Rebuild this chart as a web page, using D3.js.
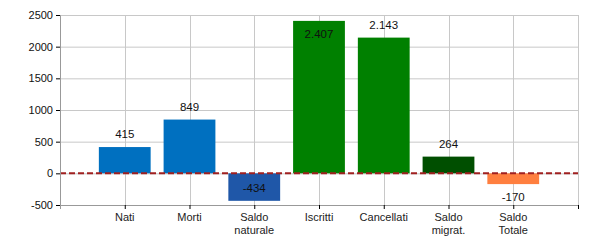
<!DOCTYPE html>
<html>
<head>
<meta charset="utf-8">
<script src="https://cdn.jsdelivr.net/npm/d3@7"></script>
<style>
  body { margin: 0; background: #fff; }
  text { font-family: "Liberation Sans", Arial, sans-serif; }
</style>
</head>
<body>
<svg id="chart" width="600" height="250"></svg>
<script>
// data
var categories = [["Nati"], ["Morti"], ["Saldo", "naturale"], ["Iscritti"], ["Cancellati"], ["Saldo", "migrat."], ["Saldo", "Totale"]];
var values = [415, 849, -434, 2407, 2143, 264, -170];
var barColors = ["#0070c0", "#0070c0", "#1f57a8", "#008000", "#008000", "#004f00", "#ff7f3f"];
var yTicks = [-500, 0, 500, 1000, 1500, 2000, 2500];

var margin = {top: 15, left: 60, right: 22, bottom: 45};
var width = 600 - margin.left - margin.right,
    height = 250 - margin.top - margin.bottom;

var svg = d3.select("#chart");
var g = svg.append("g").attr("transform", "translate(" + margin.left + "," + margin.top + ")");

var y = d3.scaleLinear().domain([-500, 2500]).range([height, 0]);
// one empty slot on the left, categories at 1..7, edge at 8
var x = d3.scaleLinear().domain([0, categories.length + 1]).range([0, width]);
var slot = x(1) - x(0);
var barW = slot * 0.8;

// horizontal grid
g.selectAll(".hgrid").data(yTicks).enter().append("line")
    .attr("x1", 0).attr("x2", width)
    .attr("y1", function(d) { return y(d) + 0.5; })
    .attr("y2", function(d) { return y(d) + 0.5; })
    .style("stroke", "#c8c8c8");

// vertical grid
var vIdx = d3.range(1, categories.length + 2);
g.selectAll(".vgrid").data(vIdx).enter().append("line")
    .attr("x1", function(d) { return Math.round(x(d)) + 0.5; })
    .attr("x2", function(d) { return Math.round(x(d)) + 0.5; })
    .attr("y1", 0).attr("y2", height)
    .style("stroke", "#c8c8c8");

// bars
g.selectAll(".bar").data(values).enter().append("rect")
    .attr("x", function(d, i) { return x(i + 1) - barW / 2; })
    .attr("y", function(d) { return y(Math.max(0, d)); })
    .attr("width", barW)
    .attr("height", function(d) { return Math.abs(y(d) - y(0)); })
    .style("fill", function(d, i) { return barColors[i]; });

// zero line
g.append("line")
    .attr("x1", 0).attr("x2", width)
    .attr("y1", y(0)).attr("y2", y(0))
    .style("stroke", "#a02020")
    .style("stroke-width", 2)
    .style("stroke-dasharray", "6,3");

// value labels, thousands with a dot, plain hyphen for minus
var fmt = function(v) { return d3.format(",")(v).replace(/,/g, ".").replace("\u2212", "-"); };
g.selectAll(".val").data(values).enter().append("text")
    .attr("x", function(d, i) { return x(i + 1); })
    .attr("y", function(d) {
        var end = y(d);
        if (d >= 0) {
            var above = end - 13;
            return (above < 8 ? end + 13 : above) + 4;
        } else {
            var below = end + 13;
            return (below > height - 6 ? end - 13 : below) + 4;
        }
    })
    .attr("text-anchor", "middle")
    .style("font-size", "11.5px")
    .style("fill", "#111")
    .text(function(d) { return fmt(d); });

// y axis
var yAxis = g.append("g").call(d3.axisLeft(y).tickValues(yTicks).tickSize(4).tickPadding(3)
    .tickFormat(function(d) { return String(d); }));
yAxis.select(".domain").attr("stroke", "#999");
yAxis.selectAll(".tick line").attr("stroke", "#000");
yAxis.selectAll("text").style("font-size", "11px").style("fill", "#111")
    .style("font-family", "Liberation Sans, Arial, sans-serif");

// x axis
var xAxis = g.append("g").attr("transform", "translate(0," + height + ")")
    .call(d3.axisBottom(x).tickValues(vIdx).tickSize(4).tickFormat(""));
xAxis.select(".domain").attr("stroke", "#999");
xAxis.selectAll(".tick line").attr("stroke", "#000");

// category labels
var cl = g.selectAll(".cat").data(categories).enter().append("text")
    .attr("x", function(d, i) { return x(i + 1); })
    .attr("y", height + 16)
    .attr("text-anchor", "middle")
    .style("font-size", "11px")
    .style("fill", "#222");
cl.selectAll("tspan").data(function(d) { return d; }).enter().append("tspan")
    .attr("x", function() { return d3.select(this.parentNode).attr("x"); })
    .attr("dy", function(d, i) { return i === 0 ? 0 : 12.5; })
    .text(function(d) { return d; });
</script>
</body>
</html>
